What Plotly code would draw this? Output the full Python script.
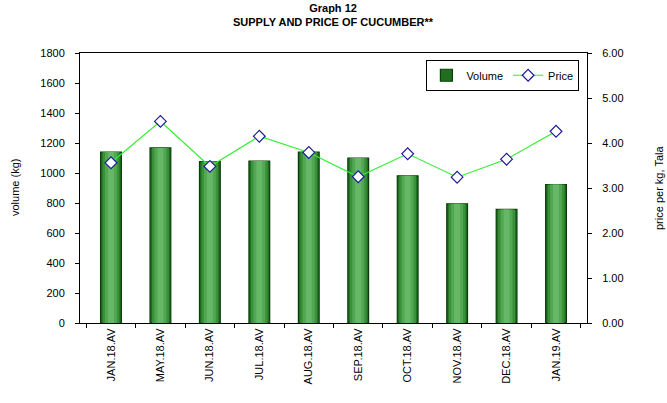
import plotly.graph_objects as go

categories = ["JAN.18.AV", "MAY.18.AV", "JUN.18.AV", "JUL.18.AV", "AUG.18.AV",
              "SEP.18.AV", "OCT.18.AV", "NOV.18.AV", "DEC.18.AV", "JAN.19.AV"]
volume = [1140, 1167, 1076, 1080, 1140, 1100, 981, 795, 757, 923]
price = [3.56, 4.48, 3.48, 4.15, 3.79, 3.25, 3.76, 3.24, 3.64, 4.26]
left_ticks = [0, 200, 400, 600, 800, 1000, 1200, 1400, 1600, 1800]
right_ticks = [0, 1, 2, 3, 4, 5, 6]

FONT = "Liberation Sans, Arial, sans-serif"
fig = go.Figure()
# gradient-like bars: layered bars of decreasing width
layers = [(0.42, "#1f6f1f", True), (0.34, "#3a913a", False),
          (0.24, "#52a852", False), (0.12, "#66b866", False)]
for w, c, first in layers:
    fig.add_trace(go.Bar(
        x=categories, y=volume, name="Volume", width=w, showlegend=first,
        legendgroup="vol", hoverinfo=None if first else "skip",
        marker=dict(color=c, line=dict(color="#0b3d0b", width=1.2 if first else 0)),
    ))
fig.add_trace(go.Scatter(
    x=categories, y=price, name="Price", yaxis="y2", mode="lines+markers",
    line=dict(color="#33ee33", width=1.2),
    marker=dict(symbol="diamond", size=9, color="white",
                line=dict(color="#1a1a99", width=1.2)),
))
axis_common = dict(showline=True, linecolor="black", linewidth=1,
                   ticks="outside", ticklen=4, tickcolor="black",
                   showgrid=False, zeroline=False, automargin=False,
                   tickfont=dict(size=11))
fig.update_layout(
    width=667, height=403,
    margin=dict(l=80, r=80, t=53, b=80, autoexpand=False),
    paper_bgcolor="white", plot_bgcolor="white",
    font=dict(family=FONT, size=11, color="black"),
    barmode="overlay",
    showlegend=True,
    legend=dict(orientation="h", x=0.985, xanchor="right", y=0.975, yanchor="top",
                bordercolor="black", borderwidth=1, bgcolor="white",
                font=dict(size=11), itemwidth=30, tracegroupgap=0),
    annotations=[
        dict(text="<b>Graph 12<br>SUPPLY AND PRICE OF CUCUMBER**</b>",
             xref="paper", yref="paper", x=0.5, y=1.0, yshift=53,
             xanchor="center", yanchor="top", showarrow=False,
             font=dict(size=11, family=FONT)),
        dict(text="volume (kg)", xref="paper", yref="paper", x=0, y=0.5,
             xshift=-65, textangle=-90, showarrow=False,
             xanchor="center", yanchor="middle", font=dict(size=11)),
        dict(text="price per kg, Tala", xref="paper", yref="paper", x=1, y=0.5,
             xshift=72, textangle=-90, showarrow=False,
             xanchor="center", yanchor="middle", font=dict(size=11)),
    ],
    xaxis=dict(axis_common, tickson="boundaries", tickangle=-90, mirror=True),
    yaxis=dict(axis_common, range=[0, 1800], tickvals=left_ticks,
               ticklabelstandoff=8),
    yaxis2=dict(axis_common, range=[0, 6], tickvals=right_ticks, tickformat=".2f",
                overlaying="y", side="right", ticklabelstandoff=8),
)
fig.write_html("out.html", config={"displayModeBar": False},
               post_script="document.body.style.margin='0';")
